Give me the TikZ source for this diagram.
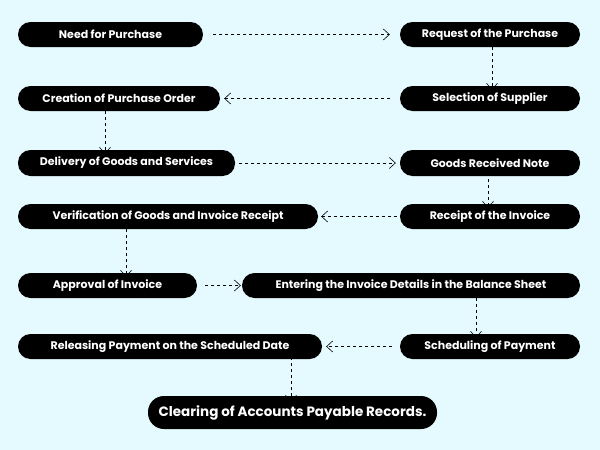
\documentclass[tikz,border=0pt]{standalone}
\usepackage{fontspec}
\setmainfont{Poppins}
\usetikzlibrary{arrows.meta}
\definecolor{bg}{HTML}{E4FAFE}
\begin{document}
\begin{tikzpicture}[x=1pt,y=-1pt,
  box/.style={fill=black,text=white,rounded corners=12.5pt,inner sep=0pt,font=\bfseries\fontsize{11}{12}\selectfont},
  conn/.style={dashed,draw=black,line width=0.6pt,-{Straight Barb[length=6pt,width=11pt]}}]
\fill[bg] (0,0) rectangle (600,450);
\useasboundingbox (0,0) rectangle (600,450);
\newcommand{\bx}[6]{\node[box,minimum width=#4-#3,minimum height=#6-#5] (#1) at ({(#3+#4)/2},{(#5+#6)/2}) {#2};}
\bx{a}{Need for Purchase}{18}{203}{22}{47}
\bx{b}{Request of the Purchase}{400}{580}{22}{47}
\bx{c}{Selection of Supplier}{400}{580}{86}{111}
\bx{d}{Creation of Purchase Order}{18}{220}{86}{111}
\bx{e}{Delivery of Goods and Services}{18}{235}{150}{176}
\bx{f}{Goods Received Note}{400}{580}{150}{176}
\bx{g}{Receipt of the Invoice}{400}{580}{204}{229}
\bx{h}{Verification of Goods and Invoice Receipt}{18}{318}{204}{229}
\bx{i}{Approval of Invoice}{18}{197}{273}{298}
\bx{j}{Entering the Invoice Details in the Balance Sheet}{242}{580}{273}{298}
\bx{k}{Scheduling of Payment}{400}{580}{334}{359}
\bx{l}{Releasing Payment on the Scheduled Date}{18}{322}{334}{359}
\node[box,font=\bfseries\fontsize{13.5}{15}\selectfont,minimum width=289,minimum height=33,rounded corners=16pt] (m) at (292.5,412.5) {Clearing of Accounts Payable Records.};
\coordinate (x1) at (492,0);
\coordinate (x2) at (105,0);
\coordinate (x3) at (488,0);
\coordinate (x4) at (126,0);
\coordinate (x5) at (476,0);
\coordinate (x6) at (291,0);
\draw[conn] ([xshift=10pt]a.east) -- ([xshift=-10pt]b.west);
\draw[conn] ([yshift=6pt]b.south -| x1) -- ([yshift=-4pt]c.north -| x1);
\draw[conn] ([xshift=-10pt]c.west) -- ([xshift=4pt]d.east);
\draw[conn] ([yshift=6pt]d.south -| x2) -- ([yshift=-4pt]e.north -| x2);
\draw[conn] ([xshift=4pt]e.east) -- ([xshift=-4pt]f.west);
\draw[conn] ([yshift=3pt]f.south -| x3) -- ([yshift=-4pt]g.north -| x3);
\draw[conn] ([xshift=-3pt]g.west) -- ([xshift=3pt]h.east);
\draw[conn] ([yshift=6pt]h.south -| x4) -- ([yshift=-4pt]i.north -| x4);
\draw[conn] ([xshift=8pt]i.east) -- ([xshift=-1pt]j.west);
\draw[conn] ([yshift=6pt]j.south -| x5) -- ([yshift=-4pt]k.north -| x5);
\draw[conn] ([xshift=-8pt]k.west) -- ([xshift=4pt]l.east);
\draw[conn] ([yshift=8pt]l.south -| x6) -- ([yshift=-6pt]m.north -| x6);
\end{tikzpicture}
\end{document}
